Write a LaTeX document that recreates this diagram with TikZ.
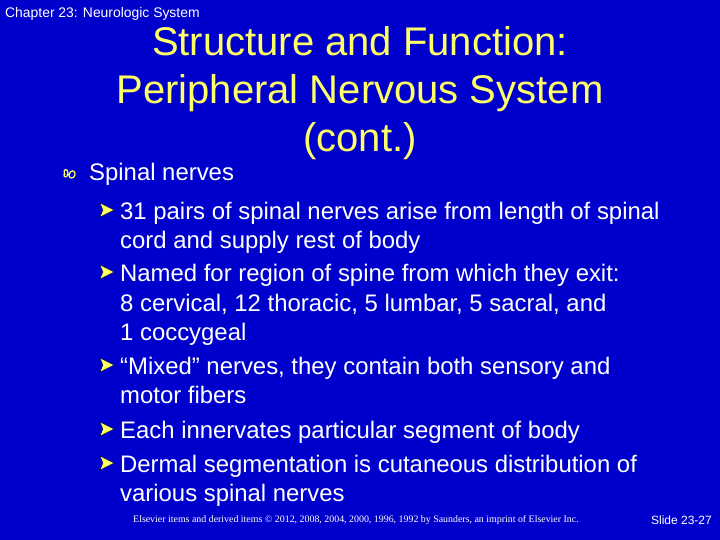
\documentclass[tikz,border=0pt]{standalone}
\usepackage{fontspec}
\setmainfont{Liberation Sans}
\newfontfamily\serifft{Liberation Serif}
\definecolor{bg}{RGB}{0,0,204}
\definecolor{ttl}{RGB}{255,255,102}
\tikzset{
 body/.style={anchor=base west,inner sep=0pt,text=white,font=\fontsize{23.9}{28}\selectfont},
 ttlline/.style={anchor=base,inner sep=0pt,text=ttl,font=\fontsize{40}{44}\selectfont},
 arrowbul/.style={fill=ttl,draw=black,line width=0.3pt}
}
\begin{document}
\begin{tikzpicture}[x=1pt,y=-1pt]
\fill[bg] (0,0) rectangle (720,540);
\useasboundingbox (0,0) rectangle (720,540);
\node[anchor=base west,inner sep=0pt,text=white,font=\fontsize{13.9}{16}\selectfont] (hdr) at (5,18) {Chapter 23: Neurologic System};
\node[ttlline] (t1) at (360,56) {Structure and Function:};
\node[ttlline] (t2) at (360,104) {Peripheral Nervous System};
\node[ttlline] (t3) at (360,152) {(cont.)};
% wingdings-like bullet
\draw[ttl,line width=1.2pt] (65,175) .. controls (62,168) and (68,168) .. (68,173) .. controls (68,178) and (63,178) .. (64,174) (69,175) .. controls (70,169) and (76,170) .. (75,175) .. controls (74,179) and (69,179) .. (69,175);
\node[body] (sp) at (89,181) {Spinal nerves};
\foreach \y in {210,272,365,429,463}{
 \draw[arrowbul] (100,\y-7) -- (114,\y) -- (100,\y+7) -- (103,\y) -- cycle;
}
\node[body] (a1) at (120,219) {31 pairs of spinal nerves arise from length of spinal};
\node[body] (a2) at (120,248) {cord and supply rest of body};
\node[body] (b1) at (120,281) {Named for region of spine from which they exit:};
\node[body] (b2) at (120,311) {8 cervical, 12 thoracic, 5 lumbar, 5 sacral, and};
\node[body] (b3) at (120,340) {1 coccygeal};
\node[body] (c1) at (120,374) {“Mixed” nerves, they contain both sensory and};
\node[body] (c2) at (120,403) {motor fibers};
\node[body] (d1) at (120,438) {Each innervates particular segment of body};
\node[body] (e1) at (120,472) {Dermal segmentation is cutaneous distribution of};
\node[body] (e2) at (120,501) {various spinal nerves};
\node[anchor=base west,inner sep=0pt,text=white,font=\serifft\fontsize{9.9}{12}\selectfont] (ft) at (133,522) {Elsevier items and derived items © 2012, 2008, 2004, 2000, 1996, 1992 by Saunders, an imprint of Elsevier Inc.};
\node[anchor=base east,inner sep=0pt,text=white,font=\fontsize{12}{14}\selectfont] (sl) at (712,524) {Slide 23-27};
\end{tikzpicture}
\end{document}
